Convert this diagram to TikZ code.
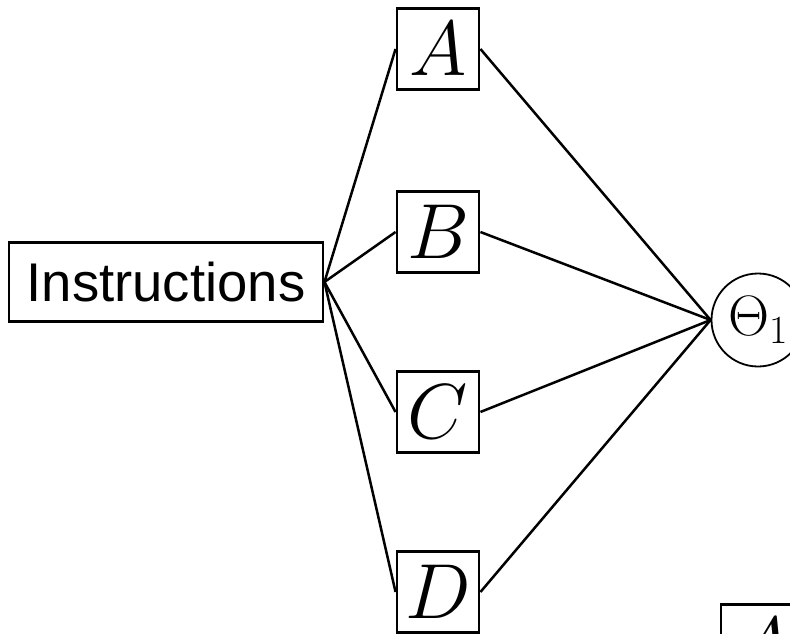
\RequirePackage{fix-cm}
\documentclass[tikz,border=0pt]{standalone}
\usepackage{amsmath}
\usepackage{fontspec}
\newfontfamily\instrfont{Liberation Sans}
\usepackage{tikz}
\usetikzlibrary{positioning}
\tikzset{
  sqbox/.style={ draw, line width=2.9pt, minimum width=82pt, minimum height=81pt, inner sep=0pt, font=\fontsize{78}{78}\selectfont }
}
\tikzset{
  instrbox/.style={ draw, line width=2.9pt, minimum width=314pt, minimum height=79pt, inner sep=0pt, font=\instrfont\fontsize{54.5}{54.5}\selectfont }
}
\tikzset{
  circTheta/.style={ draw, circle, line width=1.8pt, minimum size=93pt, inner sep=0pt, font=\fontsize{57}{57}\selectfont }
}
\tikzset{
  link/.style={ line width=2.5pt }
}

\begin{document}
\begin{tikzpicture}[x=1pt, y=-1pt]
      \useasboundingbox (0,0) rectangle (790,634);
      \node[instrbox] (instr) at (166, 282) {Instructions};
      \node[sqbox] (A) at (438, 49) {$A$};
      \node[sqbox] (B) at (438, 232) {$B$};
      \node[sqbox] (C) at (438, 412) {$C$};
      \node[sqbox] (D) at (438, 592) {$D$};
      \node[circTheta] (theta) at (758, 320) {$\Theta_1$};
      \node[sqbox] (A2) at (762, 645) {$A$};

      \draw[link] (instr.east) -- (A.west);
      \draw[link] (instr.east) -- (B.west);
      \draw[link] (instr.east) -- (C.west);
      \draw[link] (instr.east) -- (D.west);

      \draw[link] (A.east) -- (theta.west);
      \draw[link] (B.east) -- (theta.west);
      \draw[link] (C.east) -- (theta.west);
      \draw[link] (D.east) -- (theta.west);
    \end{tikzpicture}
\end{document}
